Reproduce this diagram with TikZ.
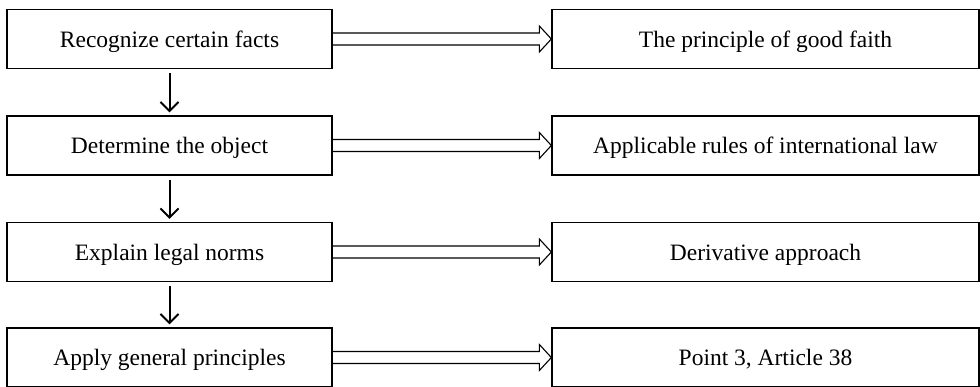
\documentclass[tikz,border=0pt]{standalone}
\usepackage{fontspec}
\setmainfont{Liberation Serif}
\usetikzlibrary{arrows.meta,calc}
\begin{document}
\begin{tikzpicture}[x=1pt,y=-1pt,
  boxbase/.style={draw,line width=1.3pt,minimum height=59pt,inner sep=0pt,text depth=0pt,font=\fontsize{23.5}{26}\selectfont},
  lbox/.style={boxbase,minimum width=325pt},
  rbox/.style={boxbase,minimum width=427pt},
  down/.style={line width=2pt,-{Straight Barb[length=9pt,width=18pt,line width=2pt]}},
  dbl/.style={line width=1.1pt}]
\useasboundingbox (0,0) rectangle (980,387);
\node[lbox] (l1) at (169.5,39) {Recognize certain facts};
\node[lbox] (l2) at (169.5,145.5) {Determine the object};
\node[lbox] (l3) at (169.5,252) {Explain legal norms};
\node[lbox] (l4) at (169.5,357.5) {Apply general principles};
\node[rbox] (r1) at (765.5,39) {The principle of good faith};
\node[rbox] (r2) at (765.5,145.5) {Applicable rules of international law};
\node[rbox] (r3) at (765.5,252) {Derivative approach};
\node[rbox] (r4) at (765.5,357.5) {Point 3, Article 38};
\foreach \a/\b in {l1/l2,l2/l3,l3/l4}
  \draw[down] ($(\a.south)+(0,4)$) -- ($(\b.north)+(0,-3)$);
\foreach \i in {1,2,3,4}{
  \draw[dbl] ($(l\i.east)+(0,-6)$)
    -- ($(r\i.west)+(-12,-6)$) -- ($(r\i.west)+(-12,-13)$) -- (r\i.west)
    -- ($(r\i.west)+(-12,13)$) -- ($(r\i.west)+(-12,6)$) -- ($(l\i.east)+(0,6)$);
}
\end{tikzpicture}
\end{document}
